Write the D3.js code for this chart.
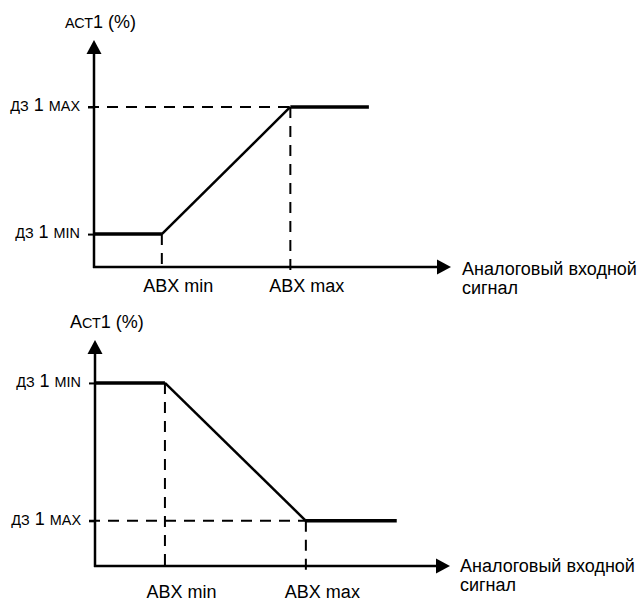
<!DOCTYPE html>
<html>
<head>
<meta charset="utf-8">
<script src="https://cdn.jsdelivr.net/npm/d3@7"></script>
<style>
  body { margin: 0; background: #fff; }
  svg { display: block; font-family: "Liberation Sans", Arial, sans-serif; }
</style>
</head>
<body>
<svg id="chart" width="643" height="602"></svg>
<script>
// signal (%) on x, output (%) on y
var topX = [0, 19, 55, 77];
var topY = [14.5, 14.5, 70.5, 70.5];
var bottomX = [0, 19.7, 59.4, 85];
var bottomY = [81, 81, 20, 20];

var xTickLabels = ["ABX min", "ABX max"];
var yTickLabels = ["дз 1 min", "дз 1 max"];   // label at the first bend, label at the second
var topTitle = "аст1 (%)";
var bottomTitle = "Аст1 (%)";
var xTitle = ["Аналоговый входной", "сигнал"];

var FS = 18;
var svg = d3.select("#chart");

// fake small caps: lowercase runs drawn as smaller capitals
function smallCaps(text, str, size) {
	text.text(null);
	var runs = str.match(/[a-zа-яё]+|[^a-zа-яё]+/g);
	runs.forEach(function (r) {
		var low = /[a-zа-яё]/.test(r);
		text.append("tspan")
			.attr("font-size", low ? size * 0.8 : size)
			.text(low ? r.toUpperCase() : r);
	});
}

function drawPanel(opt) {
	var g = svg.append("g").attr("transform", "translate(" + opt.left + "," + opt.top + ")");
	var x = d3.scaleLinear().domain([0, 100]).range([0, opt.width]);
	var y = d3.scaleLinear().domain([0, 100]).range([opt.height, 0]);

	var xs = opt.xs, ys = opt.ys;

	// dashed guides
	var dash = "11,8";
	g.append("line")
		.attr("x1", x(0) - 6).attr("x2", x(xs[2]))
		.attr("y1", y(ys[2])).attr("y2", y(ys[2]))
		.attr("stroke", "#000").attr("stroke-width", 2).attr("stroke-dasharray", dash);
	[1, 2].forEach(function (i) {
		g.append("line")
			.attr("x1", x(xs[i])).attr("x2", x(xs[i]))
			.attr("y1", y(ys[i])).attr("y2", y(0) + 5)
			.attr("stroke", "#000").attr("stroke-width", 2).attr("stroke-dasharray", dash);
	});

	// y ticks + labels
	var yAxis = d3.axisLeft(y)
		.tickValues([ys[1], ys[2]])
		.tickSize(6)
		.tickPadding(8)
		.tickFormat(function (d, i) { return yTickLabels[i]; });
	var ya = g.append("g").call(yAxis);
	ya.select(".domain").remove();
	ya.selectAll("line").attr("stroke", "#000").attr("stroke-width", 2);
	ya.selectAll("text")
		.attr("font-family", "Liberation Sans, Arial, sans-serif")
		.attr("fill", "#000")
		.each(function (d, i) { smallCaps(d3.select(this), yTickLabels[i], FS); });

	// x labels
	var xAxis = d3.axisBottom(x)
		.tickValues([xs[1], xs[2]])
		.tickSize(0)
		.tickPadding(opt.xPad)
		.tickFormat(function (d, i) { return xTickLabels[i]; });
	var xa = g.append("g").attr("transform", "translate(0," + opt.height + ")").call(xAxis);
	xa.select(".domain").remove();
	xa.selectAll("text")
		.attr("dx", 16)
		.attr("font-size", FS)
		.attr("font-family", "Liberation Sans, Arial, sans-serif")
		.attr("fill", "#000");

	// curve: flat parts thicker than the ramp
	for (var i = 0; i < xs.length - 1; i++) {
		g.append("line")
			.attr("x1", x(xs[i])).attr("y1", y(ys[i]))
			.attr("x2", x(xs[i + 1])).attr("y2", y(ys[i + 1]))
			.attr("stroke", "#000")
			.attr("stroke-width", ys[i] == ys[i + 1] ? 3.5 : 2.5);
	}

	// axes with arrow heads
	var ah = 14, aw = 7.5;
	g.append("line")
		.attr("x1", x(0)).attr("x2", x(0))
		.attr("y1", y(0) + 1).attr("y2", y(100) + ah)
		.attr("stroke", "#000").attr("stroke-width", 2.5);
	g.append("line")
		.attr("x1", x(0) - 1).attr("x2", x(100) - ah)
		.attr("y1", y(0)).attr("y2", y(0))
		.attr("stroke", "#000").attr("stroke-width", 2.5);
	g.append("path")
		.attr("d", "M" + x(0) + "," + y(100) + " L" + (x(0) - aw) + "," + (y(100) + ah) + " L" + (x(0) + aw) + "," + (y(100) + ah) + " Z")
		.attr("fill", "#000");
	g.append("path")
		.attr("d", "M" + x(100) + "," + y(0) + " L" + (x(100) - ah) + "," + (y(0) - aw) + " L" + (x(100) - ah) + "," + (y(0) + aw) + " Z")
		.attr("fill", "#000");

	// titles
	var tt = g.append("text")
		.attr("x", x(0) + opt.titleDx).attr("y", y(100) - 12)
		.attr("fill", "#000");
	smallCaps(tt, opt.title, FS);
	var xt = g.append("text")
		.attr("x", x(100) + opt.xtDx).attr("y", y(0) + opt.xtDy)
		.attr("font-size", FS)
		.attr("fill", "#000");
	xt.append("tspan").attr("x", x(100) + opt.xtDx).text(xTitle[0]);
	xt.append("tspan").attr("x", x(100) + opt.xtDx).attr("dy", 19).text(xTitle[1]);
}

drawPanel({left: 94, top: 40, width: 357, height: 227, xs: topX, ys: topY, title: topTitle,
	titleDx: -29, xPad: 12, xtDx: 11, xtDy: 8});
drawPanel({left: 95, top: 340, width: 355, height: 226, xs: bottomX, ys: bottomY, title: bottomTitle,
	titleDx: -25, xPad: 19, xtDx: 10, xtDy: 6});
</script>
</body>
</html>
